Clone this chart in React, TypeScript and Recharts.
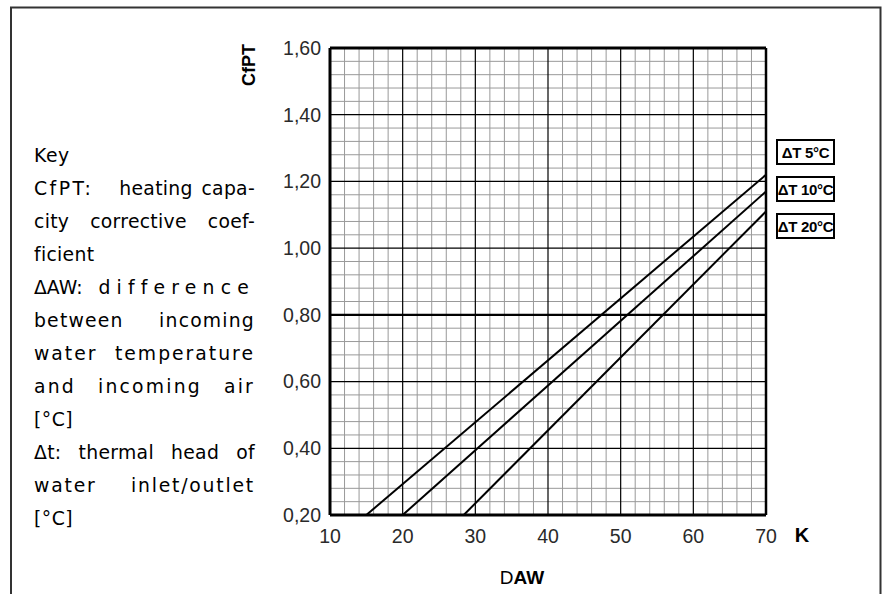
import { LineChart, Line, XAxis, YAxis, ReferenceLine, Label } from 'recharts'

// Axis ticks (major) and grid subdivisions (minor)
const X_TICKS = [10, 20, 30, 40, 50, 60, 70]
const X_MINOR = [12, 14, 16, 18, 22, 24, 26, 28, 32, 34, 36, 38, 42, 44, 46, 48, 52, 54, 56, 58, 62, 64, 66, 68]
const Y_TICKS = [0.2, 0.4, 0.6, 0.8, 1.0, 1.2, 1.4, 1.6]
const Y_MINOR = [
  0.24, 0.28, 0.32, 0.36, 0.44, 0.48, 0.52, 0.56, 0.64, 0.68, 0.72, 0.76,
  0.84, 0.88, 0.92, 0.96, 1.04, 1.08, 1.12, 1.16, 1.24, 1.28, 1.32, 1.36,
  1.44, 1.48, 1.52, 1.56,
]

// CfPT vs DAW (K) for each thermal head
const dT5 = [{ k: 15, c: 0.2 }, { k: 70, c: 1.22 }]
const dT10 = [{ k: 20, c: 0.2 }, { k: 70, c: 1.17 }]
const dT20 = [{ k: 28.4, c: 0.2 }, { k: 70, c: 1.11 }]

const SERIES = [
  { name: 'ΔT 5°C', data: dT5 },
  { name: 'ΔT 10°C', data: dT10 },
  { name: 'ΔT 20°C', data: dT20 },
]

// key text, one entry per printed line: [text, letter spacing] pairs
const KEY_LINES: { parts: [string, number][]; j: boolean }[] = [
  { parts: [['Key', 0.5]], j: false },
  { parts: [['CfPT:', 2.5], ['   heating capa-', 0.3]], j: true },
  { parts: [['city corrective coef-', 0.3]], j: true },
  { parts: [['ficient', 0.3]], j: false },
  { parts: [['ΔAW: ', 0], ['difference', 6.2]], j: true },
  { parts: [['between incoming', 1.2]], j: true },
  { parts: [['water temperature', 2]], j: true },
  { parts: [['and incoming air', 2.2]], j: true },
  { parts: [['[°C]', 0.5]], j: false },
  { parts: [['Δt: thermal head of', 0.3]], j: true },
  { parts: [['water inlet/outlet', 1.8]], j: true },
  { parts: [['[°C]', 0.5]], j: false },
]

const TICK_FONT = { fill: '#2a2a2a', fontSize: 19.5, fontFamily: 'Liberation Sans, Arial, sans-serif' }
const fmt = (v: number) => v.toFixed(2).replace('.', ',')

export default function App() {
  return (
    <div style={{ position: 'absolute', left: 0, top: 0, width: 884, height: 594, background: '#fff', overflow: 'hidden' }}>
      {/* outer frame */}
      <svg width={884} height={594} style={{ position: 'absolute', left: 0, top: 0 }}>
        <path d="M11,594 V7.5 H880.5 V594" fill="none" stroke="#333" strokeWidth={2} />
      </svg>

      {/* key text */}
      <div style={{
        position: 'absolute', left: 34, top: 139, width: 221,
        fontFamily: 'DejaVu Sans, sans-serif', fontSize: 18.8, lineHeight: '33px', color: '#000',
      }}>
        {KEY_LINES.map((l, i) => (
          <div key={i} style={{
            whiteSpace: 'pre', textAlign: 'justify', textAlignLast: l.j ? 'justify' : 'left', height: 33,
          }}>
            {l.parts.map(([t, ls], k) => (
              <span key={k} style={{ letterSpacing: ls }}>{t}</span>
            ))}
          </div>
        ))}
      </div>

      <div style={{ position: 'absolute', left: 0, top: 0 }}>
        <LineChart width={884} height={594} margin={{ top: 48, right: 118, bottom: 49, left: 270 }}>
          {X_MINOR.map((x) => (
            <ReferenceLine key={'xm' + x} x={x} stroke="#999" strokeWidth={1} />
          ))}
          {Y_MINOR.map((y) => (
            <ReferenceLine key={'ym' + y} y={y} stroke="#999" strokeWidth={1} />
          ))}
          {X_TICKS.slice(1, -1).map((x) => (
            <ReferenceLine key={'xM' + x} x={x} stroke="#000" strokeWidth={1.2} />
          ))}
          {Y_TICKS.slice(1, -1).map((y) => (
            <ReferenceLine key={'yM' + y} y={y} stroke="#000" strokeWidth={y === 0.8 ? 2.2 : 1.2} />
          ))}
          <ReferenceLine y={1.6} stroke="#000" strokeWidth={3} />
          <ReferenceLine x={70} stroke="#000" strokeWidth={2.5} />

          <XAxis
            type="number"
            dataKey="k"
            domain={[10, 70]}
            ticks={X_TICKS}
            allowDataOverflow
            height={30}
            axisLine={{ stroke: '#000', strokeWidth: 3 }}
            tickLine={false}
            tickSize={0}
            tickMargin={14}
            tick={TICK_FONT}
          >
            <Label
              content={({ viewBox }: any) => (
                <g>
                  <text x={viewBox.x + viewBox.width + 36} y={viewBox.y + 27} textAnchor="middle"
                    fontFamily="Liberation Sans, Arial, sans-serif" fontWeight="bold" fontSize={20} fill="#000">K</text>
                  <text x={viewBox.x + 192} y={viewBox.y + 69} textAnchor="middle"
                    fontFamily="Liberation Sans, Arial, sans-serif" fontSize={19} fill="#000">
                    D<tspan fontWeight="bold">AW</tspan>
                  </text>
                </g>
              )}
            />
          </XAxis>
          <YAxis
            type="number"
            dataKey="c"
            domain={[0.2, 1.6]}
            ticks={Y_TICKS}
            allowDataOverflow
            width={60}
            axisLine={{ stroke: '#000', strokeWidth: 3 }}
            tickLine={false}
            tickSize={0}
            tickMargin={9}
            tickFormatter={fmt}
            tick={TICK_FONT}
          >
            <Label
              content={({ viewBox }: any) => (
                <text transform={`translate(${viewBox.x - 21},${viewBox.y + 17}) rotate(-90)`} textAnchor="middle"
                  dy="0.36em" fontFamily="Liberation Sans, Arial, sans-serif" fontWeight="bold" fontSize={18} fill="#000">
                  CfPT
                </text>
              )}
            />
          </YAxis>

          {SERIES.map((s) => (
            <Line key={s.name} data={s.data} dataKey="c" name={s.name} type="linear"
              stroke="#000" strokeWidth={2} dot={false} activeDot={false} isAnimationActive={false} />
          ))}
        </LineChart>
      </div>

      {/* series labels */}
      <div style={{ position: 'absolute', left: 776, top: 139, display: 'flex', flexDirection: 'column', gap: 11 }}>
        {SERIES.map((s) => (
          <div key={s.name} style={{
            width: 59, height: 26, boxSizing: 'border-box', border: '2px solid #000',
            display: 'flex', alignItems: 'center', justifyContent: 'center',
            fontFamily: 'Liberation Sans, Arial, sans-serif', fontWeight: 'bold', fontSize: 15, color: '#000',
            whiteSpace: 'nowrap', letterSpacing: -0.3,
          }}>
            {s.name}
          </div>
        ))}
      </div>
    </div>
  )
}
